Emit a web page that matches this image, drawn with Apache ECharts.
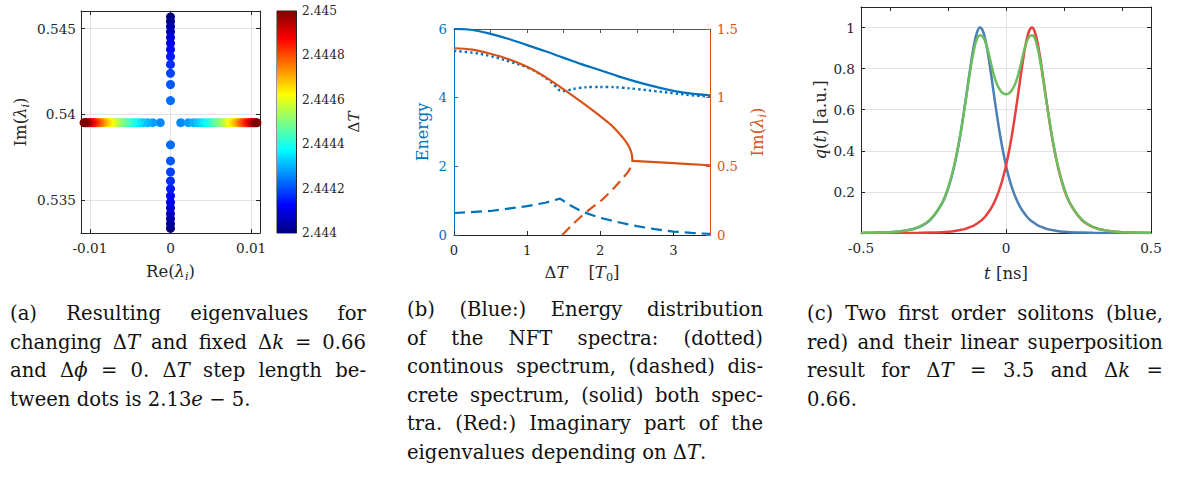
<!DOCTYPE html>
<html>
<head>
<meta charset="utf-8">
<script src="https://cdn.jsdelivr.net/npm/echarts@6/dist/echarts.min.js"></script>
<style>
  html, body { margin: 0; padding: 0; background: #fff; }
  #chart { position: absolute; left: 0; top: 0; width: 1181px; height: 292px; }
  .cap { position: absolute; width: 356px; font-family: 'DejaVu Serif', serif; font-size: 19.6px;
         line-height: 28.5px; color: #111; }
  .cap div { text-align: justify; text-align-last: justify; }
  .cap div.last { text-align: left; text-align-last: left; }
  .cap i { font-style: italic; }
</style>
</head>
<body>
<div id="chart"></div>

<div class="cap" style="left:10px; top:300px;">
  <div>(a) Resulting eigenvalues for</div>
  <div>changing Δ<i>T</i> and fixed Δ<i>k</i> = 0.66</div>
  <div>and Δ<i>ϕ</i> = 0. Δ<i>T</i> step length be-</div>
  <div class="last">tween dots is 2.13<i>e</i> − 5.</div>
</div>
<div class="cap" style="left:407px; top:296px;">
  <div>(b) (Blue:) Energy distribution</div>
  <div>of the NFT spectra: (dotted)</div>
  <div>continous spectrum, (dashed) dis-</div>
  <div>crete spectrum, (solid) both spec-</div>
  <div>tra. (Red:) Imaginary part of the</div>
  <div class="last">eigenvalues depending on Δ<i>T</i>.</div>
</div>
<div class="cap" style="left:807px; top:300px;">
  <div>(c) Two first order solitons (blue,</div>
  <div>red) and their linear superposition</div>
  <div>result for Δ<i>T</i> = 3.5 and Δ<i>k</i> =</div>
  <div class="last">0.66.</div>
</div>

<script>
// ---------- (a) eigenvalue trajectories ----------
// imaginary-axis branch (before the collision), innermost dot first
const imUpper = [0.54080, 0.54174, 0.54239, 0.54291, 0.54337, 0.54378, 0.54415, 0.54449, 0.54482, 0.54512, 0.54541, 0.54568];
const imLower = [0.53822, 0.53728, 0.53663, 0.53611, 0.53565, 0.53524, 0.53487, 0.53453, 0.53420, 0.53390, 0.53361, 0.53334];
const dTImagBranch = [2.44423, 2.44421, 2.44419, 2.44417, 2.44415, 2.44413, 2.44411, 2.44409, 2.44406, 2.44404, 2.44402, 2.44400];
// real-axis branch (after the collision), innermost dot first
const imCollision = 0.53951;
const reRight = [0.00127, 0.00220, 0.00285, 0.00337, 0.00382, 0.00422, 0.00459, 0.00493, 0.00525, 0.00555, 0.00583, 0.00610,
                 0.00636, 0.00661, 0.00685, 0.00709, 0.00731, 0.00753, 0.00774, 0.00795, 0.00815, 0.00835, 0.00854, 0.00873,
                 0.00891, 0.00909, 0.00927, 0.00944, 0.00961, 0.00978, 0.00994, 0.01010, 0.01026, 0.01042, 0.01057, 0.01072];
const reLeft = [-0.00127, -0.00220, -0.00285, -0.00337, -0.00382, -0.00422, -0.00459, -0.00493, -0.00525, -0.00555, -0.00583, -0.00610,
                -0.00636, -0.00661, -0.00685, -0.00709, -0.00731, -0.00753, -0.00774, -0.00795, -0.00815, -0.00835, -0.00854, -0.00873,
                -0.00891, -0.00909, -0.00927, -0.00944, -0.00961, -0.00978, -0.00994, -0.01010, -0.01026, -0.01042, -0.01057, -0.01072];
const dTRealBranch = [2.44426, 2.44428, 2.44430, 2.44432, 2.44434, 2.44436, 2.44438, 2.44440, 2.44443, 2.44445, 2.44447, 2.44449,
                      2.44451, 2.44453, 2.44455, 2.44458, 2.44460, 2.44462, 2.44464, 2.44466, 2.44468, 2.44470, 2.44472, 2.44475,
                      2.44477, 2.44479, 2.44481, 2.44483, 2.44485, 2.44487, 2.44489, 2.44492, 2.44494, 2.44496, 2.44498, 2.44500];
const reTicks = [-0.01, 0, 0.01];
const imTicks = [0.535, 0.54, 0.545];

// ---------- (b) energy and eigenvalue vs ΔT ----------
const dTTotal = [0, 0.25, 0.5, 0.75, 1, 1.25, 1.5, 1.75, 2, 2.25, 2.5, 2.75, 3, 3.25, 3.5];
const energyTotal = [6.0, 5.97, 5.86, 5.71, 5.53, 5.35, 5.16, 4.97, 4.80, 4.62, 4.46, 4.32, 4.20, 4.12, 4.07];
const dTCont = [0, 0.25, 0.5, 0.75, 1, 1.15, 1.3, 1.4, 1.47, 1.55, 1.7, 1.9, 2.1, 2.3, 2.5, 2.75, 3, 3.25, 3.5];
const energyCont = [5.36, 5.31, 5.21, 5.06, 4.88, 4.72, 4.50, 4.31, 4.19, 4.21, 4.28, 4.31, 4.31, 4.29, 4.25, 4.19, 4.13, 4.07, 4.03];
const dTDisc = [0, 0.5, 1, 1.25, 1.45, 1.6, 1.75, 2, 2.25, 2.5, 2.75, 3, 3.25, 3.5];
const energyDisc = [0.64, 0.70, 0.84, 0.94, 1.06, 0.85, 0.68, 0.50, 0.37, 0.26, 0.17, 0.10, 0.06, 0.03];
const dTImUpper = [0, 0.25, 0.5, 0.75, 1, 1.25, 1.5, 1.75, 2, 2.15, 2.25, 2.33, 2.38, 2.41, 2.43, 2.44];
const imUpperB = [1.36, 1.35, 1.32, 1.28, 1.225, 1.15, 1.06, 0.965, 0.865, 0.80, 0.745, 0.695, 0.655, 0.622, 0.59, 0.54];
const dTImLower = [1.48, 1.6, 1.75, 1.9, 2.0, 2.1, 2.2, 2.3, 2.38, 2.42, 2.44];
const imLowerB = [0, 0.065, 0.14, 0.205, 0.245, 0.295, 0.35, 0.41, 0.46, 0.50, 0.54];
const dTImMerged = [2.44, 3.0, 3.5];
const imMergedB = [0.54, 0.523, 0.508];

// ---------- (c) soliton pulses ----------
const tNs = [-0.5, -0.45, -0.4, -0.35, -0.3, -0.26, -0.22, -0.2, -0.18, -0.16, -0.14, -0.12, -0.11, -0.1, -0.09, -0.08,
             -0.07, -0.06, -0.05, -0.04, -0.03, -0.02, -0.01, 0, 0.01, 0.02, 0.03, 0.04, 0.05, 0.06, 0.07, 0.08, 0.09,
             0.1, 0.11, 0.12, 0.14, 0.16, 0.18, 0.2, 0.22, 0.26, 0.3, 0.35, 0.4, 0.45, 0.5];
const qBlue = [0.0005, 0.0015, 0.004, 0.011, 0.029, 0.065, 0.145, 0.215, 0.316, 0.456, 0.639, 0.834, 0.918, 0.976, 1.0, 0.984,
               0.932, 0.853, 0.758, 0.658, 0.562, 0.473, 0.395, 0.328, 0.271, 0.223, 0.184, 0.151, 0.124, 0.102, 0.083, 0.068, 0.056,
               0.046, 0.037, 0.031, 0.020, 0.014, 0.009, 0.006, 0.004, 0.002, 0.001, 0.0003, 0.0001, 0, 0];
const qRed = [0, 0, 0.0001, 0.0003, 0.001, 0.002, 0.004, 0.006, 0.009, 0.014, 0.020, 0.031, 0.037, 0.046, 0.056, 0.068,
              0.083, 0.102, 0.124, 0.151, 0.184, 0.223, 0.271, 0.328, 0.395, 0.473, 0.562, 0.658, 0.758, 0.853, 0.932, 0.984, 1.0,
              0.976, 0.918, 0.834, 0.639, 0.456, 0.316, 0.215, 0.145, 0.065, 0.029, 0.011, 0.004, 0.0015, 0.0005];
const qSum = [0.0005, 0.0015, 0.004, 0.011, 0.030, 0.067, 0.148, 0.219, 0.32, 0.46, 0.635, 0.82, 0.895, 0.945, 0.962, 0.955,
              0.925, 0.875, 0.815, 0.76, 0.72, 0.695, 0.68, 0.675, 0.68, 0.695, 0.72, 0.76, 0.815, 0.875, 0.925, 0.955, 0.962,
              0.945, 0.895, 0.82, 0.635, 0.46, 0.32, 0.219, 0.148, 0.067, 0.030, 0.011, 0.004, 0.0015, 0.0005];

// ---------- styling ----------
const FONT = 'DejaVu Serif';
const AX = '#262626';
const GRID_LINE = '#e2e2e2';
const BLUE = '#0072BD';
const ORANGE = '#D95319';
const JET = ['#00007F', '#0000FF', '#007FFF', '#00FFFF', '#7FFF7F', '#FFFF00', '#FF7F00', '#FF0000', '#7F0000'];

const zip = (xs, ys) => xs.map((x, i) => [x, ys[i]]);

// eigenvalue points: [Re, Im, ΔT], drawn in order of ΔT
const eigPoints = [];
imUpper.forEach((v, i) => { eigPoints.push([0, v, dTImagBranch[i]]); eigPoints.push([0, imLower[i], dTImagBranch[i]]); });
reRight.forEach((v, i) => { eigPoints.push([v, imCollision, dTRealBranch[i]]); eigPoints.push([reLeft[i], imCollision, dTRealBranch[i]]); });
eigPoints.sort((a, b) => a[2] - b[2]);

function richName(color, size) {
  return {
    fontFamily: FONT, fontSize: size, color: color,
    rich: {
      r: { fontFamily: FONT, fontSize: size, color: color, lineHeight: 22 },
      i: { fontFamily: FONT, fontSize: size, color: color, fontStyle: 'italic', lineHeight: 22 },
      s: { fontFamily: FONT, fontSize: size * 0.68, color: color, fontStyle: 'italic', lineHeight: 13, verticalAlign: 'bottom' },
      u: { fontFamily: FONT, fontSize: size * 0.68, color: color, lineHeight: 13, verticalAlign: 'bottom' }
    }
  };
}

function tickLabel(color, size, margin, extra) {
  return Object.assign({ color: color, fontFamily: FONT, fontSize: size, margin: margin }, extra || {});
}

// an edge axis that only draws the box side with inward ticks
function edgeAxis(gridIndex, position, min, max, color, tickOpts) {
  return {
    type: 'value', gridIndex, position, min, max,
    axisLine: { show: true, onZero: false, lineStyle: { color, width: 1 } },
    axisTick: Object.assign({ show: true, inside: true, length: 4, lineStyle: { color } }, tickOpts),
    axisLabel: { show: false },
    splitLine: { show: false }
  };
}

const chart = echarts.init(document.getElementById('chart'), null, { renderer: 'svg' });

const option = {
  animation: false,
  backgroundColor: '#fff',
  grid: [
    { left: 81, top: 11, width: 179, height: 222, outerBoundsMode: 'none' },
    { left: 277, top: 11, width: 19, height: 222, outerBoundsMode: 'none', show: true, borderColor: AX, borderWidth: 1, backgroundColor: 'transparent' },
    { left: 454, top: 29, width: 256, height: 206, outerBoundsMode: 'none' },
    { left: 861, top: 7, width: 290, height: 226, outerBoundsMode: 'none' }
  ],
  visualMap: [{
    type: 'continuous', show: false, seriesIndex: 0, dimension: 2,
    min: 2.444, max: 2.445, inRange: { color: JET }
  }],
  xAxis: [
    { // (a) Re
      type: 'value', gridIndex: 0, min: -0.0111, max: 0.0111,
      axisLine: { show: true, onZero: false, lineStyle: { color: AX } },
      axisTick: { show: true, inside: true, length: 4, customValues: reTicks, lineStyle: { color: AX } },
      axisLabel: tickLabel(AX, 13.6, 8, { customValues: reTicks }),
      splitLine: { show: true, lineStyle: { color: GRID_LINE, width: 1 } },
      name: '{r|Re(}{i|λ}{s|i}{r|)}', nameLocation: 'middle', nameGap: 27, nameMoveOverlap: false,
      nameTextStyle: richName(AX, 16.5)
    },
    edgeAxis(0, 'top', -0.0111, 0.0111, AX, { customValues: reTicks }),
    { type: 'value', gridIndex: 1, min: 0, max: 1, show: false },
    { // (b) ΔT
      type: 'value', gridIndex: 2, min: 0, max: 3.5, interval: 1,
      axisLine: { show: true, onZero: false, lineStyle: { color: AX } },
      axisTick: { show: true, inside: true, length: 4, lineStyle: { color: AX } },
      axisLabel: tickLabel(AX, 13.2, 9, { showMaxLabel: false }),
      splitLine: { show: false },
      name: '{r|Δ}{i|T}{r|    [}{i|T}{u|0}{r|]}', nameLocation: 'middle', nameGap: 26, nameMoveOverlap: false,
      nameTextStyle: richName(AX, 16.5)
    },
    edgeAxis(2, 'top', 0, 3.5, '#555', {}),
    { // (c) t
      type: 'value', gridIndex: 3, min: -0.5, max: 0.5, interval: 0.5,
      axisLine: { show: true, onZero: false, lineStyle: { color: AX } },
      axisTick: { show: true, inside: true, length: 4, lineStyle: { color: AX } },
      axisLabel: tickLabel(AX, 13.6, 8),
      splitLine: { show: true, lineStyle: { color: GRID_LINE, width: 1 } },
      name: '{i|t}{r| [ns]}', nameLocation: 'middle', nameGap: 29, nameMoveOverlap: false,
      nameTextStyle: richName(AX, 16.5)
    },
    edgeAxis(3, 'top', -0.5, 0.5, AX, { interval: 0.5 })
  ],
  yAxis: [
    { // (a) Im
      type: 'value', gridIndex: 0, min: 0.53307, max: 0.54603,
      axisLine: { show: true, onZero: false, lineStyle: { color: AX } },
      axisTick: { show: true, inside: true, length: 4, customValues: imTicks, lineStyle: { color: AX } },
      axisLabel: tickLabel(AX, 13.6, 5, { customValues: imTicks }),
      splitLine: { show: true, lineStyle: { color: GRID_LINE, width: 1 } },
      name: '{r|Im(}{i|λ}{s|i}{r|)}', nameLocation: 'middle', nameGap: 50, nameMoveOverlap: false,
      nameTextStyle: richName(AX, 16.5)
    },
    edgeAxis(0, 'right', 0.53307, 0.54603, AX, { customValues: imTicks }),
    { // colour bar ΔT
      type: 'value', gridIndex: 1, position: 'right', min: 2.444, max: 2.445, interval: 0.0002,
      axisLine: { show: true, onZero: false, lineStyle: { color: AX } },
      axisTick: { show: false },
      axisLabel: tickLabel(AX, 12.2, 6),
      splitLine: { show: false },
      name: '{r|Δ}{i|T}', nameLocation: 'middle', nameGap: 47, nameRotate: 90, nameMoveOverlap: false,
      nameTextStyle: richName(AX, 15)
    },
    { // (b) energy
      type: 'value', gridIndex: 2, position: 'left', min: 0, max: 6, interval: 2,
      axisLine: { show: true, onZero: false, lineStyle: { color: BLUE } },
      axisTick: { show: true, inside: true, length: 4, lineStyle: { color: BLUE } },
      axisLabel: tickLabel(BLUE, 13.2, 7),
      splitLine: { show: false },
      name: '{r|Energy}', nameLocation: 'middle', nameGap: 21, nameMoveOverlap: false,
      nameTextStyle: richName(BLUE, 16)
    },
    { // (b) imaginary part
      type: 'value', gridIndex: 2, position: 'right', min: 0, max: 1.5, interval: 0.5,
      axisLine: { show: true, onZero: false, lineStyle: { color: ORANGE } },
      axisTick: { show: true, inside: true, length: 4, lineStyle: { color: ORANGE } },
      axisLabel: tickLabel(ORANGE, 13.2, 7),
      splitLine: { show: false },
      name: '{r|Im(}{i|λ}{s|i}{r|)}', nameLocation: 'middle', nameGap: 36, nameRotate: 90, nameMoveOverlap: false,
      nameTextStyle: richName(ORANGE, 16.5)
    },
    { // (c) amplitude
      type: 'value', gridIndex: 3, min: 0, max: 1.1, interval: 0.2,
      axisLine: { show: true, onZero: false, lineStyle: { color: AX } },
      axisTick: { show: true, inside: true, length: 4, lineStyle: { color: AX } },
      axisLabel: tickLabel(AX, 13.6, 6, { showMinLabel: false, showMaxLabel: false }),
      splitLine: { show: true, lineStyle: { color: GRID_LINE, width: 1 } },
      name: '{i|q}{r|(}{i|t}{r|) [a.u.]}', nameLocation: 'middle', nameGap: 30, nameMoveOverlap: false,
      nameTextStyle: richName(AX, 16.5)
    },
    edgeAxis(3, 'right', 0, 1.1, AX, { interval: 0.2 })
  ],
  series: [
    {
      type: 'scatter', xAxisIndex: 0, yAxisIndex: 0, data: eigPoints,
      symbol: 'circle', symbolSize: 9, itemStyle: { opacity: 1 }, silent: true, z: 5
    },
    {
      type: 'custom', xAxisIndex: 2, yAxisIndex: 2, silent: true,
      data: [[0, 1, 2.444, 2.445]],
      renderItem: function (params, api) {
        const topLeft = api.coord([api.value(0), api.value(3)]);
        const bottomRight = api.coord([api.value(1), api.value(2)]);
        const stops = JET.slice().reverse().map((c, i, a) => ({ offset: i / (a.length - 1), color: c }));
        return {
          type: 'rect',
          shape: { x: topLeft[0], y: topLeft[1], width: bottomRight[0] - topLeft[0], height: bottomRight[1] - topLeft[1] },
          style: { fill: new echarts.graphic.LinearGradient(0, 0, 0, 1, stops) }
        };
      }
    },
    {
      type: 'line', xAxisIndex: 3, yAxisIndex: 3, data: zip(dTTotal, energyTotal), smooth: 0.4,
      showSymbol: false, symbol: 'none', lineStyle: { color: BLUE, width: 2.2 }
    },
    {
      type: 'line', xAxisIndex: 3, yAxisIndex: 3, data: zip(dTCont, energyCont), smooth: 0.4,
      showSymbol: false, symbol: 'none', lineStyle: { color: BLUE, width: 2.4, type: [2.4, 3] }
    },
    {
      type: 'line', xAxisIndex: 3, yAxisIndex: 3, data: zip(dTDisc, energyDisc), smooth: false,
      showSymbol: false, symbol: 'none', lineStyle: { color: BLUE, width: 2.2, type: [11, 6] }
    },
    {
      type: 'line', xAxisIndex: 3, yAxisIndex: 4, data: zip(dTImUpper, imUpperB), smooth: 0.35,
      showSymbol: false, symbol: 'none', lineStyle: { color: ORANGE, width: 2.2 }
    },
    {
      type: 'line', xAxisIndex: 3, yAxisIndex: 4, data: zip(dTImMerged, imMergedB), smooth: 0.3,
      showSymbol: false, symbol: 'none', lineStyle: { color: ORANGE, width: 2.2 }
    },
    {
      type: 'line', xAxisIndex: 3, yAxisIndex: 4, data: zip(dTImLower, imLowerB), smooth: 0.3,
      showSymbol: false, symbol: 'none', lineStyle: { color: ORANGE, width: 2.2, type: [11, 6] }
    },
    {
      type: 'line', xAxisIndex: 5, yAxisIndex: 5, data: zip(tNs, qBlue), smooth: 0.4,
      showSymbol: false, symbol: 'none', lineStyle: { color: '#4a7fb6', width: 2.5 }
    },
    {
      type: 'line', xAxisIndex: 5, yAxisIndex: 5, data: zip(tNs, qRed), smooth: 0.4,
      showSymbol: false, symbol: 'none', lineStyle: { color: '#e8403f', width: 2.5 }
    },
    {
      type: 'line', xAxisIndex: 5, yAxisIndex: 5, data: zip(tNs, qSum), smooth: 0.4,
      showSymbol: false, symbol: 'none', lineStyle: { color: '#6cbd5e', width: 2.5 }
    }
  ]
};

chart.setOption(option);
</script>
</body>
</html>
